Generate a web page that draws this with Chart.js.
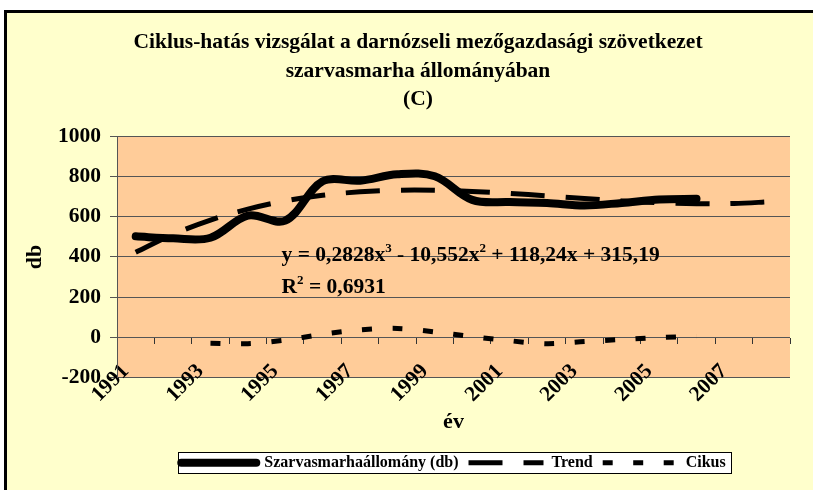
<!DOCTYPE html>
<html><head><meta charset="utf-8">
<script src="https://cdn.jsdelivr.net/npm/chart.js@4/dist/chart.umd.min.js"></script>
<style>
html,body{margin:0;padding:0;background:#fff;width:813px;height:490px;overflow:hidden;}
#frame{position:absolute;left:4px;top:10px;width:822px;height:490px;border:3px solid #000;background:#FFFFCC;}
#wrap{position:absolute;left:0;top:0;width:822px;height:477px;}
</style></head><body>
<div id="frame"><div id="wrap"><canvas id="c"></canvas></div></div>
<script>
const years = ['1991','1992','1993','1994','1995','1996','1997','1998','1999','2000','2001','2002','2003','2004','2005','2006','2007','2008'];
const shownYears = ['1991','1993','1995','1997','1999','2001','2003','2005','2007'];
const allomany = [502, 492, 495, 605, 580, 775, 778, 810, 800, 683, 672, 668, 655, 668, 685, 688, null, null];
const trend = [423, 512, 583, 637, 678, 706, 723, 731, 731, 725, 715, 703, 690, 678, 669, 664, 665, 674];
const cikus = [null, null, -28, -31, -13, 16, 38, 45, 28, 4, -16, -31, -20, -10, 0, 5, null, null];
const yTicks = [-200, 0, 200, 400, 600, 800, 1000];
const titleLines = ['Ciklus-hatás vizsgálat a darnózseli mezőgazdasági szövetkezet', 'szarvasmarha állományában', '(C)'];
const seriesNames = ['Szarvasmarhaállomány (db)', 'Trend', 'Cikus'];
const eqLine1 = ['y = 0,2828x', '3', ' - 10,552x', '2', ' + 118,24x + 315,19'];
const eqLine2 = ['R', '2', ' = 0,6931'];

const SERIF = "'Liberation Serif', 'Times New Roman', serif";

const bgPlugin = {
  id: 'bg',
  beforeDraw(chart) {
    const {ctx, chartArea: a} = chart;
    ctx.save();
    ctx.fillStyle = '#FFCC99';
    ctx.fillRect(a.left, a.top, a.right - a.left, a.bottom - a.top);
    const lg = chart.legend;
    if (lg && lg.legendHitBoxes && lg.legendHitBoxes.length) {
      const hb = lg.legendHitBoxes;
      const x0 = hb[0].left - 3, x1 = hb[hb.length - 1].left + hb[hb.length - 1].width + 6;
      const y0 = hb[0].top - 2.5, y1 = hb[0].top + hb[0].height + 2.5;
      ctx.fillStyle = '#fff';
      ctx.fillRect(x0, y0, x1 - x0, y1 - y0);
      ctx.strokeStyle = '#000';
      ctx.lineWidth = 1;
      ctx.strokeRect(Math.round(x0) + 0.5, Math.round(y0) + 0.5, Math.round(x1 - x0), Math.round(y1 - y0));
    }
    ctx.restore();
  }
};

function drawRich(ctx, parts, x, y, size) {
  let cx = x;
  parts.forEach((p, i) => {
    const sup = i % 2 === 1;
    ctx.font = 'bold ' + (sup ? Math.round(size * 0.62) : size) + 'px ' + SERIF;
    ctx.fillText(p, cx, sup ? y - size * 0.42 : y);
    cx += ctx.measureText(p).width;
  });
}

const eqPlugin = {
  id: 'eq',
  afterDatasetsDraw(chart) {
    const {ctx, scales: {x, y}} = chart;
    ctx.save();
    ctx.fillStyle = '#000';
    ctx.textBaseline = 'alphabetic';
    ctx.textAlign = 'left';
    const px = x.getPixelForValue(3.9);
    drawRich(ctx, eqLine1, px, y.getPixelForValue(380), 21.5);
    drawRich(ctx, eqLine2, px, y.getPixelForValue(220), 21.5);
    ctx.restore();
  }
};

new Chart(document.getElementById('c'), {
  type: 'line',
  data: {
    labels: years,
    datasets: [
      { label: seriesNames[0], data: allomany, borderColor: '#000', borderWidth: 8, borderCapStyle: 'round', borderJoinStyle: 'round', tension: 0.35, pointRadius: 0, fill: false, order: 1 },
      { label: seriesNames[1], data: trend, borderColor: '#000', borderWidth: 5, borderDash: [34, 21], borderCapStyle: 'butt', tension: 0.35, pointRadius: 0, fill: false, order: 2 },
      { label: seriesNames[2], data: cikus, borderColor: '#000', borderWidth: 5, borderDash: [10, 20.5], borderCapStyle: 'butt', tension: 0.3, pointRadius: 0, fill: false, order: 3 }
    ]
  },
  options: {
    responsive: true,
    maintainAspectRatio: false,
    animation: false,
    layout: { padding: { left: 39, right: 39, top: 0, bottom: 9.3 } },
    plugins: {
      title: {
        display: true, text: titleLines, color: '#000',
        font: { family: SERIF, weight: 'bold', size: 21.5, lineHeight: 1.3256 },
        padding: { top: 15.5, bottom: 22 }
      },
      legend: {
        position: 'bottom', fullSize: false,
        labels: {
          color: '#000', font: { family: SERIF, weight: 'bold', size: 16 },
          usePointStyle: true, pointStyleWidth: 75, boxHeight: 16, padding: 10,
          generateLabels(chart) {
            return chart.data.datasets.map((ds, i) => ({
              text: ds.label, fillStyle: '#000', strokeStyle: '#000', fontColor: '#000',
              lineWidth: i === 0 ? 8 : 5, lineDash: ds.borderDash || [], lineCap: i === 0 ? 'round' : 'butt',
              pointStyle: 'line', hidden: false, datasetIndex: i
            }));
          }
        }
      },
      tooltip: { enabled: false }
    },
    scales: {
      x: {
        type: 'category', offset: true,
        grid: { display: false, drawTicks: false },
        border: { display: false },
        afterFit(s) { s.height = 66.9; s._computeLabelArea = () => undefined; },
        ticks: {
          autoSkip: false, maxRotation: 45, minRotation: 45, padding: -19, labelOffset: -10, color: '#000',
          font: { family: SERIF, weight: 'bold', size: 21.5 },
          callback(v, i) { return shownYears.includes(years[i]) ? years[i] : ''; }
        },
        title: { display: true, text: 'év', color: '#000', font: { family: SERIF, weight: 'bold', size: 22 }, padding: { top: 9.6, bottom: 9.3 } }
      },
      x2: {
        type: 'category', labels: years, offset: true, position: { y: 0 },
        grid: { offset: true, drawOnChartArea: false, drawTicks: true, tickLength: 6, color: '#333' },
        border: { display: false },
        ticks: { display: false }
      },
      y: {
        min: -200, max: 1000,
        afterBuildTicks(s) { s.ticks = yTicks.map(v => ({ value: v })); },
        grid: { color: '#555', tickLength: 7, drawTicks: true },
        border: { display: true, color: '#555' },
        ticks: { color: '#000', padding: 9, font: { family: SERIF, weight: 'bold', size: 21.5 }, callback(v) { return String(v); } },
        title: { display: true, text: 'db', color: '#000', font: { family: SERIF, weight: 'bold', size: 22 }, padding: { top: -24.2, bottom: 0.8 } }
      }
    }
  },
  plugins: [bgPlugin, eqPlugin]
});
</script>
</body></html>
